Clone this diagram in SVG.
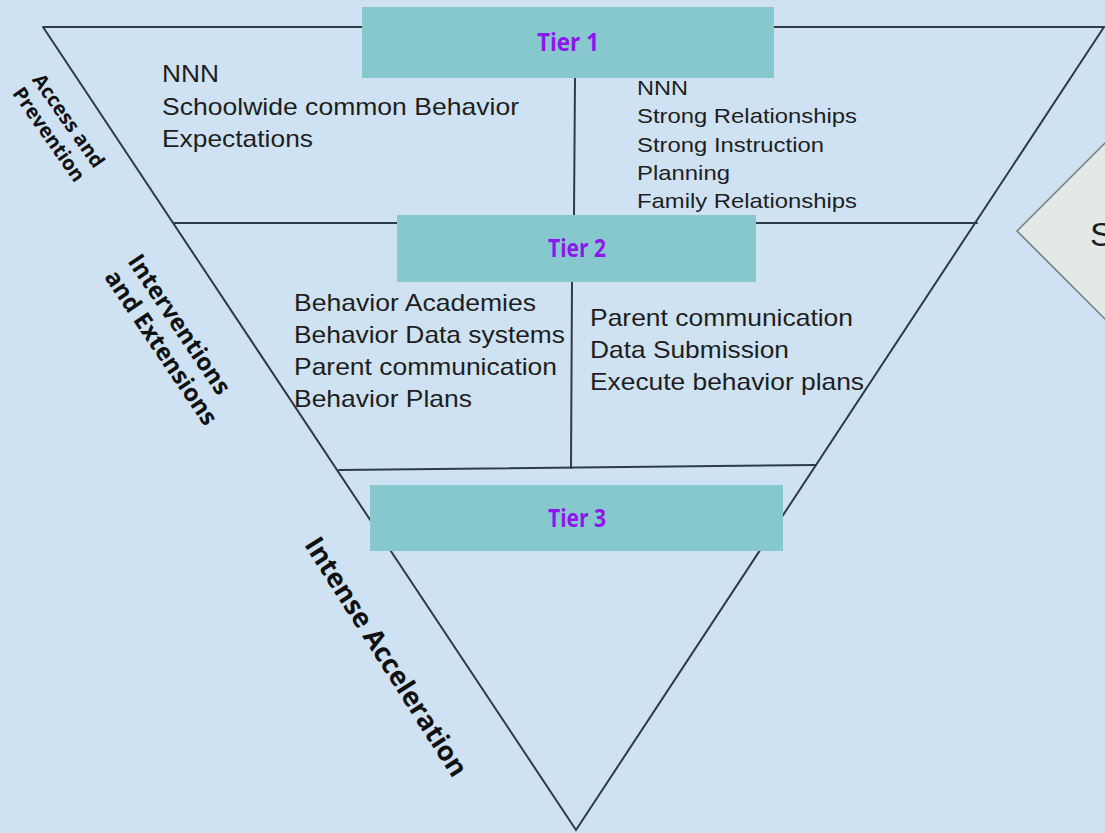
<svg xmlns="http://www.w3.org/2000/svg" width="1105" height="833" viewBox="0 0 1105 833">
  <style>
    .bg { fill: #CFE2F3; }
    .edge { stroke: #2E3B46; stroke-width: 2; fill: none; stroke-linecap: round; }
    .tier { fill: #87C8CE; }
    .tier-label { font-family: "Open Sans", "DejaVu Sans", sans-serif; font-weight: 700; font-size: 25px; fill: #8E17EE; text-anchor: middle; }
    .item { font-family: "Liberation Sans", Arial, sans-serif; fill: #1E1E1E; }
    .side { font-family: "Open Sans", "DejaVu Sans", sans-serif; font-weight: 700; fill: #111111; }
    .note { fill: #E2E9E6; stroke: #6E7C7C; stroke-width: 1.5; }
  </style>

  <rect class="bg" x="0" y="0" width="1105" height="833"/>

  <!-- inverted triangle and its dividers -->
  <g id="connectors">
    <polyline class="edge" points="43,27 1104,27 576,830 43,27"/>
    <line class="edge" x1="174" y1="223" x2="977" y2="223"/>
    <line class="edge" x1="339" y1="470" x2="816" y2="465"/>
    <line class="edge" x1="575" y1="78" x2="574" y2="215"/>
    <line class="edge" x1="572" y1="282" x2="571" y2="468"/>
  </g>

  <!-- side note shape, partly off the right edge -->
  <g id="note">
    <polygon class="note" points="1017,231 1205,43 1393,231 1205,419"/>
    <text class="item" x="1090" y="246" font-size="34">S</text>
  </g>

  <g id="tier1">
    <rect class="tier" x="362" y="7" width="412" height="71"/>
    <text class="tier-label" x="568" y="51" textLength="62" lengthAdjust="spacingAndGlyphs">Tier 1</text>
  </g>

  <g id="tier2">
    <rect class="tier" x="397" y="215" width="359" height="67"/>
    <text class="tier-label" x="577" y="257" textLength="58" lengthAdjust="spacingAndGlyphs">Tier 2</text>
  </g>

  <g id="tier3">
    <rect class="tier" x="370" y="485" width="413" height="66"/>
    <text class="tier-label" x="577" y="527" textLength="58" lengthAdjust="spacingAndGlyphs">Tier 3</text>
  </g>

  <g id="tier1-left">
    <text class="item" font-size="24" x="162" y="82" textLength="57" lengthAdjust="spacingAndGlyphs">NNN</text>
    <text class="item" font-size="24" x="162" y="115" textLength="357" lengthAdjust="spacingAndGlyphs">Schoolwide common Behavior</text>
    <text class="item" font-size="24" x="162" y="147" textLength="151" lengthAdjust="spacingAndGlyphs">Expectations</text>
  </g>

  <g id="tier1-right">
    <text class="item" font-size="21" x="637" y="95" textLength="51" lengthAdjust="spacingAndGlyphs">NNN</text>
    <text class="item" font-size="21" x="637" y="123" textLength="220" lengthAdjust="spacingAndGlyphs">Strong Relationships</text>
    <text class="item" font-size="21" x="637" y="152" textLength="187" lengthAdjust="spacingAndGlyphs">Strong Instruction</text>
    <text class="item" font-size="21" x="637" y="180" textLength="93" lengthAdjust="spacingAndGlyphs">Planning</text>
    <text class="item" font-size="21" x="637" y="208" textLength="220" lengthAdjust="spacingAndGlyphs">Family Relationships</text>
  </g>

  <g id="tier2-left">
    <text class="item" font-size="24" x="294" y="311" textLength="242" lengthAdjust="spacingAndGlyphs">Behavior Academies</text>
    <text class="item" font-size="24" x="294" y="343" textLength="271" lengthAdjust="spacingAndGlyphs">Behavior Data systems</text>
    <text class="item" font-size="24" x="294" y="375" textLength="263" lengthAdjust="spacingAndGlyphs">Parent communication</text>
    <text class="item" font-size="24" x="294" y="407" textLength="178" lengthAdjust="spacingAndGlyphs">Behavior Plans</text>
  </g>

  <g id="tier2-right">
    <text class="item" font-size="24" x="590" y="326" textLength="263" lengthAdjust="spacingAndGlyphs">Parent communication</text>
    <text class="item" font-size="24" x="590" y="358" textLength="199" lengthAdjust="spacingAndGlyphs">Data Submission</text>
    <text class="item" font-size="24" x="590" y="390" textLength="274" lengthAdjust="spacingAndGlyphs">Execute behavior plans</text>
  </g>

  <!-- rotated band labels along the left edge -->
  <g id="label-access">
    <g transform="translate(58,128) rotate(55)">
      <text class="side" font-size="20" x="0" y="-6" text-anchor="middle">Access and</text>
      <text class="side" font-size="20" x="0" y="18" text-anchor="middle">Prevention</text>
    </g>
  </g>

  <g id="label-interventions">
    <g transform="translate(170,336) rotate(56)">
      <text class="side" font-size="24" x="-86" y="-6">Interventions</text>
      <text class="side" font-size="24" x="-86" y="22">and Extensions</text>
    </g>
  </g>

  <g id="label-intense">
    <g transform="translate(386,657) rotate(57.5)">
      <text class="side" font-size="27" x="0" y="9" text-anchor="middle">Intense Acceleration</text>
    </g>
  </g>
</svg>
